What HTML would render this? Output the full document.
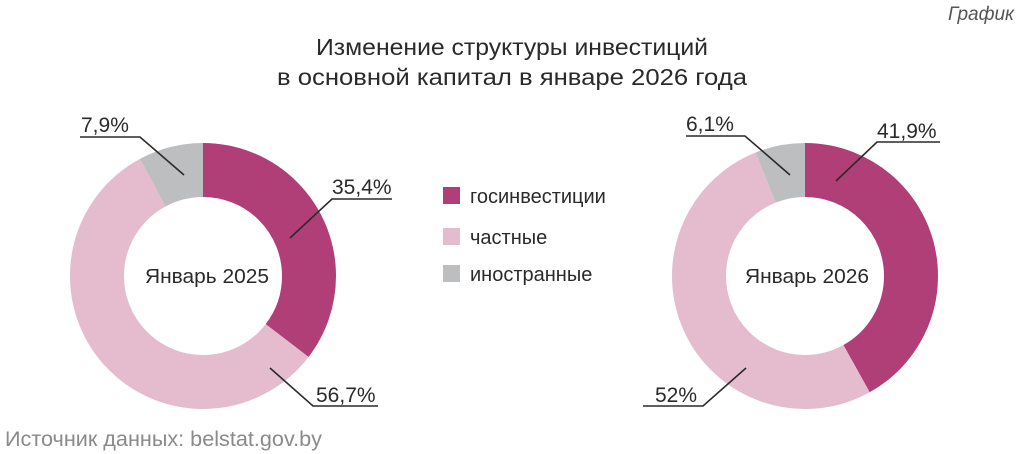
<!DOCTYPE html>
<html><head><meta charset="utf-8"><style>
html,body{margin:0;padding:0;background:#fff;}
svg{display:block;font-family:"Liberation Sans","DejaVu Sans",sans-serif;}
</style></head><body>
<svg width="1024" height="454" viewBox="0 0 1024 454" xmlns="http://www.w3.org/2000/svg">
<rect width="1024" height="454" fill="#fff"/>
<text x="1014" y="20" text-anchor="end" font-size="19" font-style="italic" fill="#555">График</text>
<text x="512" y="55" text-anchor="middle" font-size="23" fill="#2a2a2a" textLength="392" lengthAdjust="spacingAndGlyphs">Изменение структуры инвестиций</text>
<text x="512" y="85" text-anchor="middle" font-size="23" fill="#2a2a2a" textLength="470" lengthAdjust="spacingAndGlyphs">в основной капитал в январе 2026 года</text>

<g transform="rotate(-90 203 276)" fill="none" stroke-width="54">
<circle cx="203" cy="276" r="106" stroke="#b03f78" stroke-dasharray="235.77 1000"/>
<circle cx="203" cy="276" r="106" stroke="#e4bccd" stroke-dasharray="377.63 1000" stroke-dashoffset="-235.77"/>
<circle cx="203" cy="276" r="106" stroke="#bdbec0" stroke-dasharray="52.62 1000" stroke-dashoffset="-613.4"/>
</g>
<g transform="rotate(-90 805 276)" fill="none" stroke-width="54">
<circle cx="805" cy="276" r="106" stroke="#b03f78" stroke-dasharray="279.06 1000"/>
<circle cx="805" cy="276" r="106" stroke="#e4bccd" stroke-dasharray="346.33 1000" stroke-dashoffset="-279.06"/>
<circle cx="805" cy="276" r="106" stroke="#bdbec0" stroke-dasharray="40.63 1000" stroke-dashoffset="-625.39"/>
</g>

<text x="207" y="283" text-anchor="middle" font-size="20" fill="#2a2a2a" textLength="124" lengthAdjust="spacingAndGlyphs">Январь 2025</text>
<text x="807" y="283" text-anchor="middle" font-size="20" fill="#2a2a2a" textLength="124" lengthAdjust="spacingAndGlyphs">Январь 2026</text>

<g stroke="#2a2a2a" stroke-width="1.6" fill="none">
<polyline points="80,137 140,137 184,175"/>
<polyline points="290,238 332,199 392,199"/>
<polyline points="270,368 313,406 378,406"/>
<polyline points="686,136 745,136 790,175"/>
<polyline points="836,181 877,142 940,142"/>
<polyline points="746,368 703,406 643,406"/>
</g>
<g font-size="21" fill="#2a2a2a">
<text x="81" y="132">7,9%</text>
<text x="332" y="194">35,4%</text>
<text x="316" y="402">56,7%</text>
<text x="686" y="131">6,1%</text>
<text x="877" y="138">41,9%</text>
<text x="655" y="402">52%</text>
</g>

<rect x="443" y="187" width="17" height="17" fill="#b03f78"/>
<rect x="443" y="228" width="17" height="17" fill="#e4bccd"/>
<rect x="443" y="265" width="17" height="17" fill="#bdbec0"/>
<g font-size="20" fill="#2a2a2a">
<text x="470" y="203">госинвестиции</text>
<text x="470" y="244">частные</text>
<text x="470" y="281">иностранные</text>
</g>

<text x="5" y="446" font-size="21" fill="#8a8a8a" textLength="317" lengthAdjust="spacingAndGlyphs">Источник данных: belstat.gov.by</text>
</svg>
</body></html>
